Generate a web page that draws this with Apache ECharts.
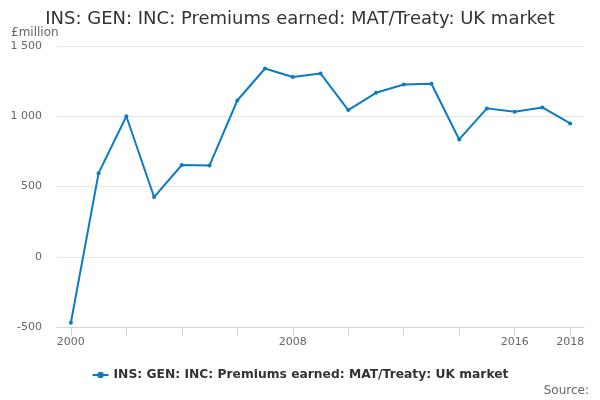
<!DOCTYPE html>
<html><head><meta charset="utf-8">
<script src="https://cdn.jsdelivr.net/npm/echarts@6/dist/echarts.min.js"></script>
<style>html,body{margin:0;padding:0;background:#fff}#c{width:600px;height:400px}</style>
</head><body><div id="c"></div>
<script>
const years = ['2000','2001','2002','2003','2004','2005','2006','2007','2008','2009','2010','2011','2012','2013','2014','2015','2016','2017','2018'];
const premiums = [-470, 595, 1000, 425, 653, 650, 1112, 1340, 1279, 1305, 1044, 1167, 1226, 1231, 835, 1056, 1032, 1063, 949];
const shownYearLabels = ['2000','2008','2016','2018'];
const seriesName = 'INS: GEN: INC: Premiums earned: MAT/Treaty: UK market';
const FONT = 'DejaVu Sans';
const chart = echarts.init(document.getElementById('c'));
chart.setOption({
  animation: false,
  textStyle: {fontFamily: FONT},
  title: [{
    text: seriesName, left: 'center', top: 5,
    textStyle: {fontFamily: FONT, fontSize: 18, fontWeight: 'normal', color: '#333'}
  }, {
    text: '£million', left: 6, top: 22,
    textStyle: {fontFamily: FONT, fontSize: 12, fontWeight: 'normal', color: '#666'}
  }, {
    text: 'Source:', right: 6, top: 380,
    textStyle: {fontFamily: FONT, fontSize: 12, fontWeight: 'normal', color: '#666'}
  }],
  grid: {left: 57, right: 16, top: 46, bottom: 73, containLabel: false},
  legend: {
    data: [seriesName], left: 'center', top: 364,
    itemWidth: 16, itemHeight: 8,
    textStyle: {fontFamily: FONT, fontSize: 12.3, fontWeight: 'bold', color: '#333'}
  },
  xAxis: {
    type: 'category', data: years, boundaryGap: true,
    axisLine: {show: true, onZero: false, lineStyle: {color: '#ccd6eb'}},
    axisTick: {show: true, inside: false, alignWithLabel: true, interval: (i) => i % 2 === 0, length: 9, lineStyle: {color: '#ccd6eb'}},
    axisLabel: {interval: (i, v) => shownYearLabels.includes(v), color: '#666', fontSize: 11, margin: 10, fontFamily: FONT}
  },
  yAxis: {
    type: 'value', min: -500, max: 1500, interval: 500,
    axisLine: {show: false}, axisTick: {show: false},
    splitLine: {lineStyle: {color: '#e6e6e6'}},
    axisLabel: {color: '#666', fontSize: 11, margin: 15, fontFamily: FONT,
      formatter: (v) => String(v).replace(/\B(?=(\d{3})+(?!\d))/g, ' ')}
  },
  series: [{
    name: seriesName, type: 'line', data: premiums,
    symbol: 'circle', symbolSize: 4,
    lineStyle: {color: '#0c7cc2', width: 2},
    itemStyle: {color: '#0c7cc2'}
  }]
});
</script></body></html>
